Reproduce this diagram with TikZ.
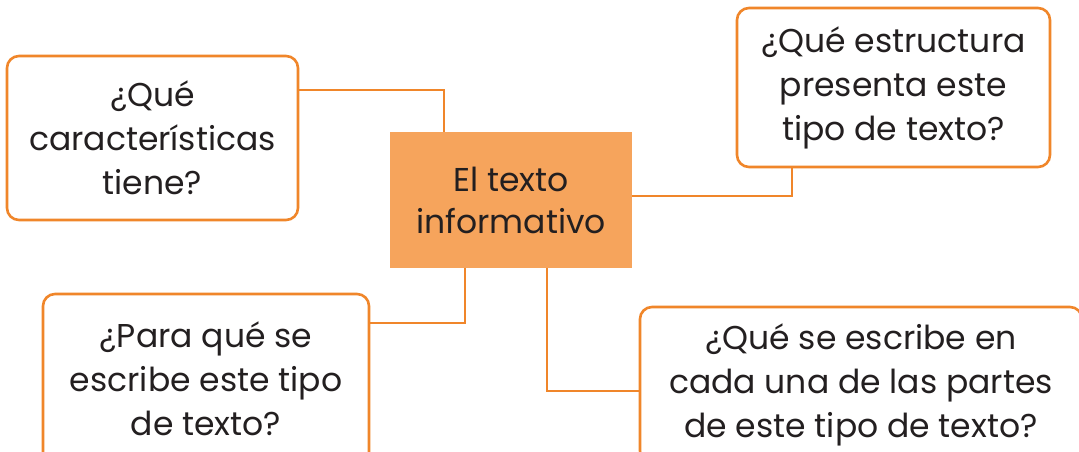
\documentclass[tikz,border=0pt]{standalone}
\usepackage{fontspec}
\setmainfont{Poppins}
\usetikzlibrary{positioning}
\definecolor{naranja}{HTML}{F0862A}
\definecolor{relleno}{HTML}{F6A45C}
\definecolor{tinta}{HTML}{231F20}

\begin{document}
\begin{tikzpicture}[x=1pt, y=-1pt,
  pregunta/.style={draw=naranja, line width=2.6pt, rounded corners=12pt, fill=white,
    align=center, inner sep=0pt, text=tinta, font=\fontsize{33}{44}\selectfont},
  tema/.style={fill=relleno, align=center, inner sep=0pt, text=tinta,
    minimum width=242pt, minimum height=136pt, font=\fontsize{33}{42}\selectfont},
  link/.style={draw=naranja, line width=2.6pt}]
  \clip (0,0) rectangle (1079,451);
  \fill[white] (0,0) rectangle (1079,451);
  % centro
  \node[tema] (info) at (511,200) {El texto\\informativo};
  % preguntas
  \node[pregunta, minimum width=291pt, minimum height=164pt] (caract) at (152.5,138) {¿Qué\\características\\tiene?};
  \node[pregunta, minimum width=313pt, minimum height=159pt] (estruct) at (893.5,87.5) {¿Qué estructura\\presenta este\\tipo de texto?};
  \node[pregunta, minimum width=326pt, minimum height=170pt] (para) at (206,379) {¿Para qué se\\escribe este tipo\\de texto?};
  \node[pregunta, minimum width=442pt, minimum height=156pt] (partes) at (861,385) {¿Qué se escribe en\\cada una de las partes\\de este tipo de texto?};
  % conectores
  \draw[link] (caract.east |- 0,90) -| (info.north -| 444,0);
  \draw[link] (info.east |- 0,196) -| (estruct.south -| 792,0);
  \draw[link] (info.south -| 465,0) |- (para.east |- 0,323);
  \draw[link] (info.south -| 547,0) |- (partes.west |- 0,391);
\end{tikzpicture}
\end{document}
